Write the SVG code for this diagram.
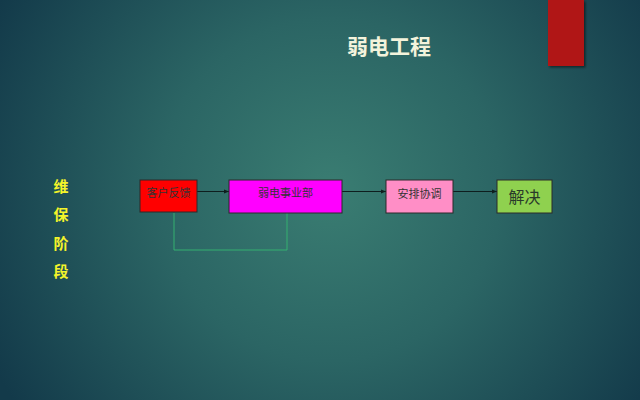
<svg xmlns="http://www.w3.org/2000/svg" width="640" height="400" viewBox="0 0 640 400">
<defs>
<radialGradient id="bg" cx="330" cy="190" r="380" gradientUnits="userSpaceOnUse">
<stop offset="0" stop-color="#3a7d72"/>
<stop offset="0.45" stop-color="#2b6564"/>
<stop offset="1" stop-color="#133a4a"/>
</radialGradient>
<marker id="arr" viewBox="0 0 10 10" refX="10" refY="5" markerWidth="5" markerHeight="5" orient="auto">
<path d="M0,1 L10,5 L0,9 z" fill="#0e1e1e"/>
</marker>
<filter id="sh" x="-20%" y="-20%" width="150%" height="150%">
<feDropShadow dx="1.5" dy="1.5" stdDeviation="1" flood-color="#000" flood-opacity="0.5"/>
</filter>
</defs>
<style>
.box{stroke:#2a2a2a;stroke-width:1}
.lbl{font-family:"Noto Sans CJK SC","Noto Sans",sans-serif;font-size:11px;fill:#333;text-anchor:middle;dominant-baseline:central}
.side{font-family:"Noto Sans CJK SC",sans-serif;font-size:15px;font-weight:bold;fill:#f4f42a;text-anchor:middle;dominant-baseline:central}
.conn{stroke:#0e1e1e;stroke-width:1;fill:none;marker-end:url(#arr)}
</style>
<rect width="640" height="400" fill="url(#bg)"/>
<rect id="redbar" x="548" y="0" width="36" height="66" fill="#b01818" filter="url(#sh)"/>
<text id="title" x="389" y="45" font-family="Noto Sans CJK SC,sans-serif" font-size="21" font-weight="bold" fill="#f3f3dc" text-anchor="middle" dominant-baseline="central">弱电工程</text>
<g id="stage">
<text class="side" x="61" y="185">维</text>
<text class="side" x="61" y="213">保</text>
<text class="side" x="61" y="242">阶</text>
<text class="side" x="61" y="270">段</text>
</g>
<g id="connectors">
<line class="conn" x1="197" y1="191.5" x2="229" y2="191.5"/>
<line class="conn" x1="342" y1="191.5" x2="386" y2="191.5"/>
<line class="conn" x1="453" y1="191.5" x2="497" y2="191.5"/>
<polyline points="287,213 287,250 174,250 174,213" fill="none" stroke="#35b070" stroke-width="1"/>
</g>
<g id="n1"><rect class="box" x="140" y="180" width="57" height="32" fill="#ff0000"/><text class="lbl" x="168.5" y="192">客户反馈</text></g>
<g id="n2"><rect class="box" x="229" y="180" width="113" height="33" fill="#ff00ff"/><text class="lbl" x="285.5" y="192">弱电事业部</text></g>
<g id="n3"><rect class="box" x="386" y="180" width="67" height="33" fill="#ff8ec6"/><text class="lbl" x="419.5" y="193">安排协调</text></g>
<g id="n4"><rect class="box" x="497" y="180" width="55" height="33" fill="#8fd14f"/><text x="524.5" y="196" font-family="Noto Sans CJK SC,sans-serif" font-size="16" fill="#2a3a2a" text-anchor="middle" dominant-baseline="central">解决</text></g>
</svg>
